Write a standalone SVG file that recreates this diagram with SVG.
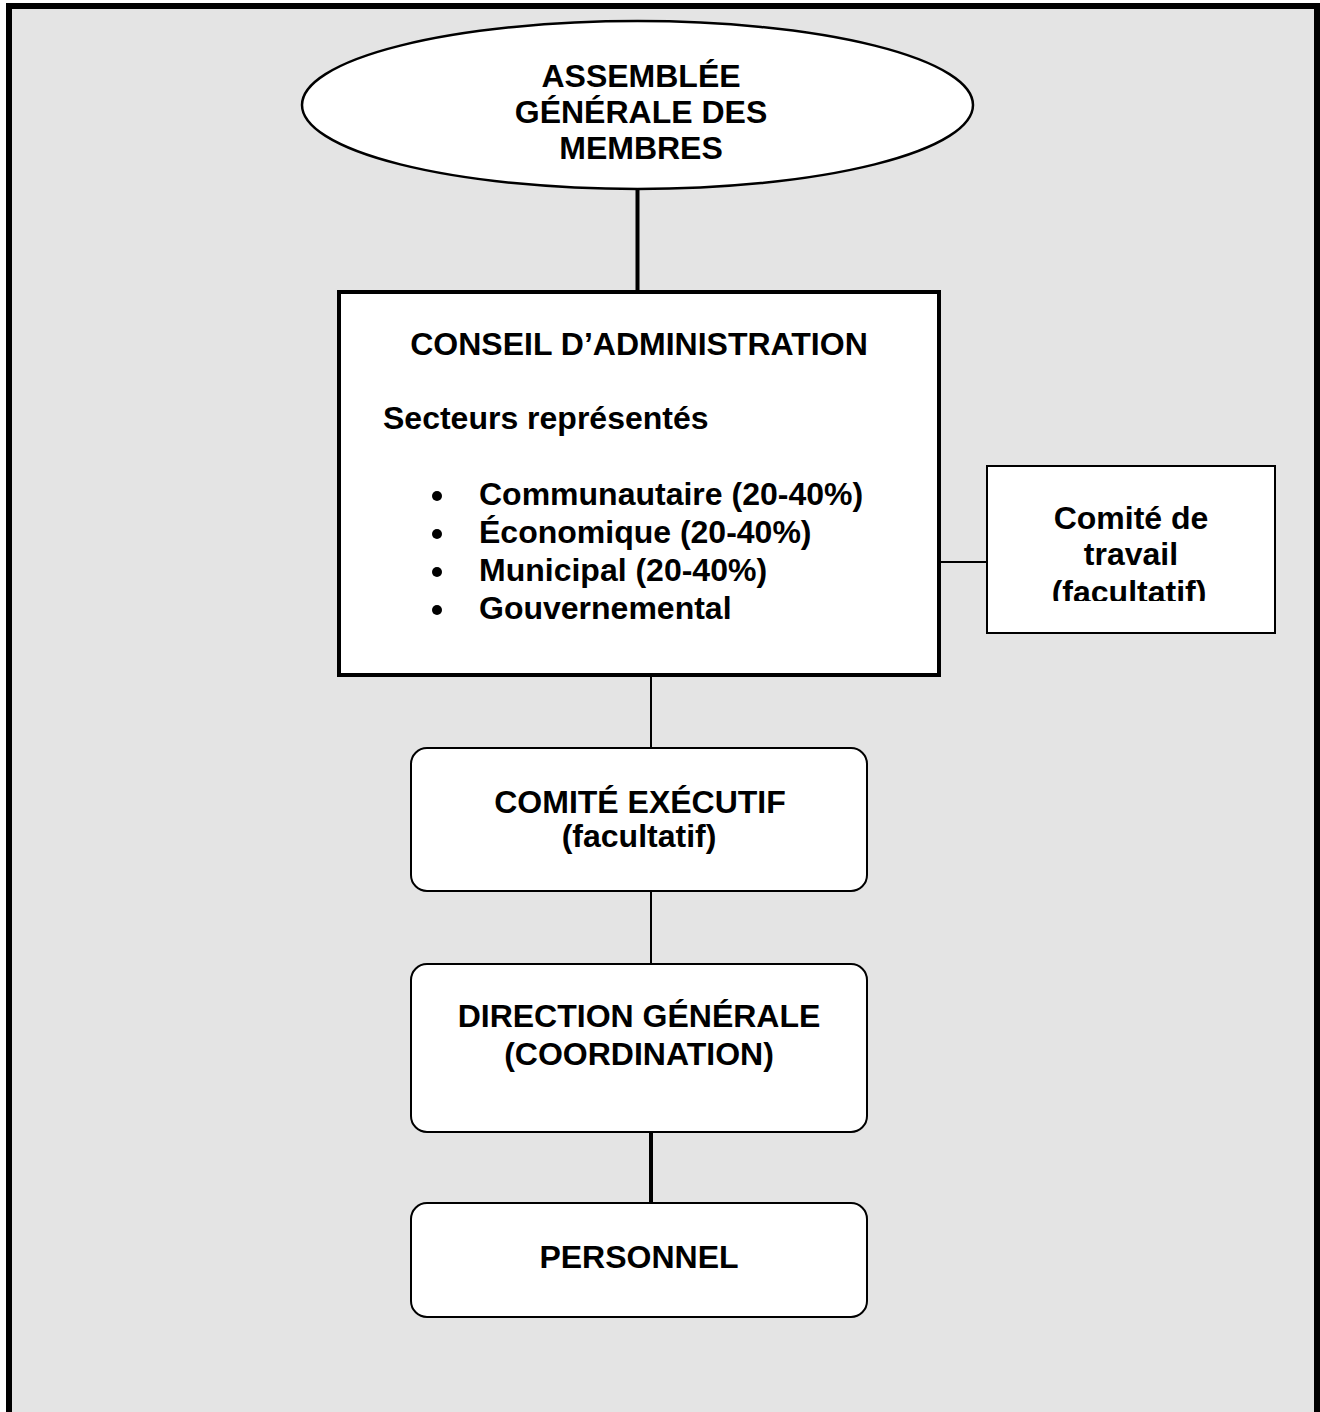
<svg xmlns="http://www.w3.org/2000/svg" width="1320" height="1412" viewBox="0 0 1320 1412">
<style>
.t{font-family:"Liberation Sans",Arial,sans-serif;font-weight:bold;fill:#000;font-size:32px}
.c{text-anchor:middle}
.box{fill:#fff;stroke:#000}
.ln{stroke:#000;fill:none}
</style>
<defs>
<clipPath id="clipCT"><rect x="987" y="466" width="288" height="135"/></clipPath>
</defs>
<rect x="9" y="6" width="1308" height="1420" fill="#e4e4e4" stroke="#000" stroke-width="6"/>
<g id="connectors">
<line class="ln" x1="637.5" y1="189" x2="637.5" y2="292" stroke-width="4"/>
<line class="ln" x1="651" y1="675" x2="651" y2="748" stroke-width="2"/>
<line class="ln" x1="939" y1="562" x2="987" y2="562" stroke-width="2"/>
<line class="ln" x1="651" y1="891" x2="651" y2="964" stroke-width="2"/>
<line class="ln" x1="651" y1="1132" x2="651" y2="1203" stroke-width="4"/>
</g>
<g id="assemblee">
<ellipse class="box" cx="637.5" cy="105" rx="335.5" ry="84" stroke-width="2.5"/>
<text class="t c" x="641" y="87" font-size="31">ASSEMBLÉE</text>
<text class="t c" x="641" y="123" font-size="31">GÉNÉRALE DES</text>
<text class="t c" x="641" y="159" font-size="31">MEMBRES</text>
</g>
<g id="conseil">
<rect class="box" x="339" y="292" width="600" height="383" stroke-width="4"/>
<text class="t c" x="639" y="355">CONSEIL D’ADMINISTRATION</text>
<text class="t" x="383" y="429">Secteurs représentés</text>
<g>
<circle cx="437" cy="496" r="5"/>
<circle cx="437" cy="534" r="5"/>
<circle cx="437" cy="572" r="5"/>
<circle cx="437" cy="610" r="5"/>
</g>
<text class="t" x="479" y="505">Communautaire (20-40%)</text>
<text class="t" x="479" y="543">Économique (20-40%)</text>
<text class="t" x="479" y="581">Municipal (20-40%)</text>
<text class="t" x="479" y="619">Gouvernemental</text>
</g>
<g id="comite-travail">
<rect class="box" x="987" y="466" width="288" height="167" stroke-width="2"/>
<text class="t c" x="1131" y="529" font-size="30">Comité de</text>
<text class="t c" x="1131" y="565" font-size="30">travail</text>
<text class="t c" x="1129" y="603" font-size="26" clip-path="url(#clipCT)">(facultatif)</text>
</g>
<g id="comite-executif">
<rect class="box" x="411" y="748" width="456" height="143" rx="16" stroke-width="2"/>
<text class="t c" x="640" y="813">COMITÉ EXÉCUTIF</text>
<text class="t c" x="639" y="847" font-size="25">(facultatif)</text>
</g>
<g id="direction-generale">
<rect class="box" x="411" y="964" width="456" height="168" rx="16" stroke-width="2"/>
<text class="t c" x="639" y="1027">DIRECTION GÉNÉRALE</text>
<text class="t c" x="639" y="1065">(COORDINATION)</text>
</g>
<g id="personnel">
<rect class="box" x="411" y="1203" width="456" height="114" rx="16" stroke-width="2"/>
<text class="t c" x="639" y="1268">PERSONNEL</text>
</g>
</svg>
